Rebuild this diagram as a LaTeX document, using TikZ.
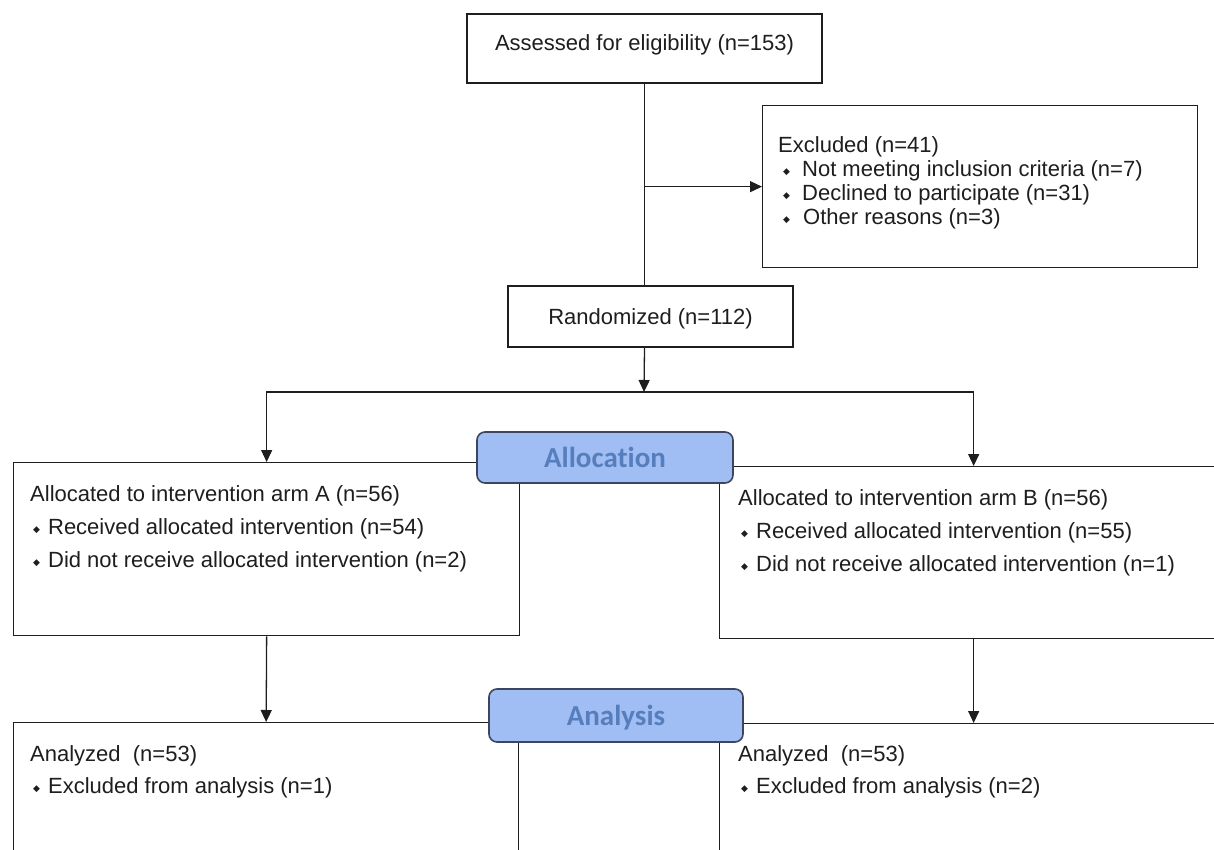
\documentclass[tikz,border=0pt]{standalone}
\usepackage{fontspec}
\setmainfont{Liberation Sans}
\newfontfamily\lblfont[Ligatures=NoCommon]{Carlito}
\newfontfamily\symf{DejaVu Sans}
\usetikzlibrary{arrows.meta, positioning, calc}
\definecolor{lncol}{RGB}{30,30,30}
\definecolor{phfill}{RGB}{160,190,244}
\definecolor{phtext}{RGB}{86,126,188}
\definecolor{phdraw}{RGB}{60,70,95}
\newcommand{\bul}{\raisebox{2pt}{\symf\fontsize{9}{9}\selectfont ◆}}
\tikzset{
  % --- Khung ---------------------------------------------
  frame/.style={draw=lncol, line width=1.3pt, fill=white, inner sep=0pt},
  mainbox/.style={frame, font=\fontsize{22}{26}\selectfont, text=lncol,
    text height=16pt, text depth=11pt},
  txt/.style={anchor=north west, inner sep=0pt, align=left, text=lncol,
    font=\fontsize{22}{33}\selectfont},
  % --- Nhan giai doan --------------------------------------
  phase/.style={draw=phdraw, line width=1.6pt, fill=phfill, rounded corners=8pt,
    text=phtext, font=\lblfont\bfseries\fontsize{29}{30}\selectfont, text depth=0pt},
  % --- Duong noi -------------------------------------------
  arr/.style={draw=lncol, line width=1.3pt, -{Triangle[length=12pt, width=11pt]}},
  ln/.style={draw=lncol, line width=1.3pt}
}
\begin{document}
\begin{tikzpicture}[x=1pt, y=-1pt]
  \useasboundingbox (0,0) rectangle (1214,850);
  \clip (0,0) rectangle (1214,850);

  % --- Sang loc ----------------------------------------------
  \node[mainbox, minimum width=355pt, minimum height=69pt] (assess) at (644.5,48.5)
    {Assessed for eligibility (n=153)};
  \node[frame, anchor=north west, minimum width=435pt, minimum height=162pt] (excl) at (762,105) {};
  \node[txt, font=\fontsize{22}{24}\selectfont] (exclt) at ([shift={(16,31)}]excl.north west)
    {Excluded (n=41)\\
     \hspace*{5pt}\bul\hspace{12pt}Not meeting inclusion criteria (n=7)\\
     \hspace*{5pt}\bul\hspace{12pt}Declined to participate (n=31)\\
     \hspace*{5pt}\bul\hspace{13pt}Other reasons (n=3)};
  \node[mainbox, minimum width=285pt, minimum height=61pt, text depth=0pt] (rand) at (650.5,316.5)
    {Randomized (n=112)};
  \coordinate (split) at (644,392);

  % --- Phan bo -----------------------------------------------
  \node[frame, anchor=north west, minimum width=506pt, minimum height=173pt] (armA) at (13,462) {};
  \node[txt] (armAt) at ([shift={(17,23)}]armA.north west)
    {Allocated to intervention arm A (n=56)\\
     \hspace*{3pt}\bul\hspace{8pt}Received allocated intervention (n=54)\\
     \hspace*{3pt}\bul\hspace{8pt}Did not receive allocated intervention (n=2)};
  \node[frame, anchor=north west, minimum width=508pt, minimum height=172pt] (armB) at (719,466) {};
  \node[txt] (armBt) at ([shift={(19,23)}]armB.north west)
    {Allocated to intervention arm B (n=56)\\
     \hspace*{3pt}\bul\hspace{8pt}Received allocated intervention (n=55)\\
     \hspace*{3pt}\bul\hspace{8pt}Did not receive allocated intervention (n=1)};

  % --- Phan tich ---------------------------------------------
  \node[frame, anchor=north west, minimum width=505pt, minimum height=180pt] (anaA) at (13,722) {};
  \node[txt, font=\fontsize{22}{32}\selectfont] (anaAt) at ([shift={(17,23)}]anaA.north west)
    {Analyzed\ \ (n=53)\\
     \hspace*{3pt}\bul\hspace{8pt}Excluded from analysis (n=1)};
  \node[frame, anchor=north west, minimum width=508pt, minimum height=180pt] (anaB) at (719,723) {};
  \node[txt, font=\fontsize{22}{32}\selectfont] (anaBt) at ([shift={(19,22)}]anaB.north west)
    {Analyzed\ \ (n=53)\\
     \hspace*{3pt}\bul\hspace{8pt}Excluded from analysis (n=2)};

  % --- Duong noi ---------------------------------------------
  \draw[ln] (assess.south) -- (assess.south |- rand.north);
  \draw[arr] (assess.south |- excl.west) -- (excl.west);
  \draw[arr] (assess.south |- rand.south) -- (split);
  \draw[arr] (split) -| (armA.north);
  \draw[arr] (split) -| (armB.north);
  \draw[arr] (armA.south) -- (anaA.north);
  \draw[arr] (armB.south) -- (anaB.north);

  % --- Nhan giai doan ----------------------------------------
  \node[phase, minimum width=256pt, minimum height=51pt] (alloc) at (605,457.5) {Allocation};
  \node[phase, minimum width=254pt, minimum height=53pt] (analysis) at (616,715.5) {Analysis};

\end{tikzpicture}
\end{document}
